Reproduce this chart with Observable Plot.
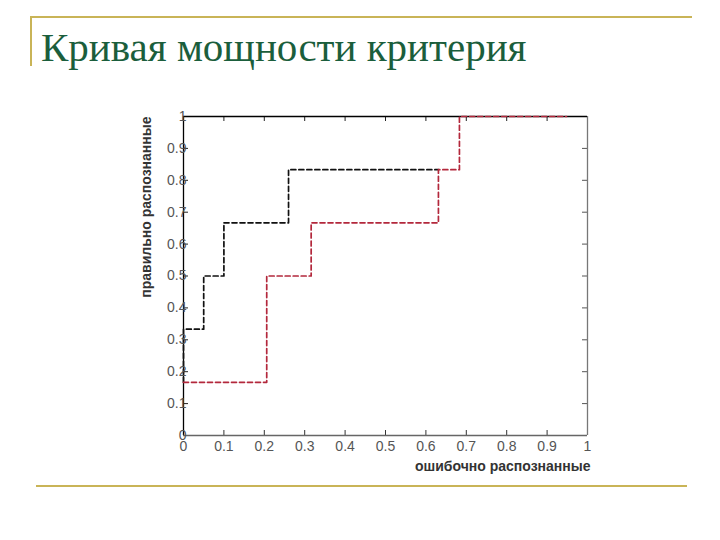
<!DOCTYPE html>
<html>
<head>
<meta charset="utf-8">
<script src="https://cdn.jsdelivr.net/npm/d3@7"></script>
<script src="https://cdn.jsdelivr.net/npm/@observablehq/plot@0.6"></script>
<style>
  html, body { margin: 0; padding: 0; background: #fff; }
  #page { position: relative; width: 720px; height: 540px; overflow: hidden; background: #fff; }
  .gold { position: absolute; background: #c9b457; }
  #chart { position: absolute; left: 0; top: 0; }
</style>
</head>
<body>
<div id="page">
  <div class="gold" style="left:30px; top:16px; width:662px; height:2px;"></div>
  <div class="gold" style="left:30px; top:16px; width:2px; height:50px;"></div>
  <div class="gold" style="left:36px; top:485px; width:651px; height:2px;"></div>
  <div id="chart"></div>
  <div style="position:absolute; left:41px; top:27px; font-family:'Liberation Serif'; font-size:41px; color:#1b5e3c; white-space:nowrap; line-height:1;">Кривая мощности критерия</div>
</div>
<script>
// Data
const blackX = [0, 0, 0.05, 0.10, 0.26, 0.631];
const blackY = [0.1667, 0.3333, 0.5, 0.6667, 0.8333, 0.8333];
const redX = [0, 0.206, 0.316, 0.631, 0.683, 0.948];
const redY = [0.1667, 0.5, 0.6667, 0.8333, 1, 1];
const xTicks = [0, 0.1, 0.2, 0.3, 0.4, 0.5, 0.6, 0.7, 0.8, 0.9, 1];
const yTicks = [0, 0.1, 0.2, 0.3, 0.4, 0.5, 0.6, 0.7, 0.8, 0.9, 1];
const xLabel = "ошибочно распознанные";
const yLabel = "правильно распознанные";

const black = blackX.map((x, i) => ({x, y: blackY[i]}));
const red = redX.map((x, i) => ({x, y: redY[i]}));

const W = 720, H = 540;
const mL = 183, mR = 133, mT = 116, mB = 105;
const innerW = W - mL - mR, innerH = H - mT - mB;
const tickLen = 5;
const fmt = d => String(d);

const chart = Plot.plot({
  width: W,
  height: H,
  marginLeft: mL,
  marginRight: mR,
  marginTop: mT,
  marginBottom: mB,
  x: {domain: [0, 1], axis: null},
  y: {domain: [0, 1], axis: null},
  style: {fontFamily: "'Liberation Sans', Arial, sans-serif", background: "transparent"},
  marks: [
    // inward ticks on all four sides
    Plot.tickX(xTicks, {x: d => d, insetTop: innerH - tickLen, stroke: "#333", strokeWidth: 1}),
    Plot.tickX(xTicks, {x: d => d, insetBottom: innerH - tickLen, stroke: "#222", strokeWidth: 1}),
    Plot.tickY(yTicks, {y: d => d, insetRight: innerW - tickLen, stroke: "#222", strokeWidth: 1}),
    Plot.tickY(yTicks, {y: d => d, insetLeft: innerW - tickLen, stroke: "#555", strokeWidth: 1}),
    // box
    Plot.ruleX([0], {stroke: "#000", strokeWidth: 1.3}),
    Plot.ruleX([1], {stroke: "#777", strokeWidth: 1.3}),
    Plot.ruleY([1], {stroke: "#000", strokeWidth: 1.3}),
    Plot.ruleY([0], {stroke: "#666", strokeWidth: 1.3}),
    // curves
    Plot.line(black, {x: "x", y: "y", curve: "step-after", stroke: "#111", strokeWidth: 1.7, strokeDasharray: "5,3"}),
    Plot.line(red, {x: "x", y: "y", curve: "step-after", stroke: "#b3283c", strokeWidth: 1.7, strokeDasharray: "5,3"}),
    // tick labels
    Plot.text(xTicks, {x: d => d, frameAnchor: "bottom", dy: 11, text: fmt, fontSize: 14, fill: "#555", lineAnchor: "middle"}),
    Plot.text(yTicks, {y: d => d, frameAnchor: "left", dx: 3, text: fmt, fontSize: 14, fill: "#555", textAnchor: "end"}),
    // axis titles
    Plot.text([xLabel], {frameAnchor: "bottom-right", dx: 3, dy: 31, text: d => d, fontSize: 14, fontWeight: "bold", fill: "#333", textAnchor: "end", lineAnchor: "middle"}),
    Plot.text([yLabel], {frameAnchor: "top-left", dx: -37, dy: 0, rotate: -90, text: d => d, fontSize: 14, fontWeight: "bold", fill: "#333", textAnchor: "end", lineAnchor: "middle"})
  ]
});
document.getElementById("chart").appendChild(chart);
</script>
</body>
</html>
